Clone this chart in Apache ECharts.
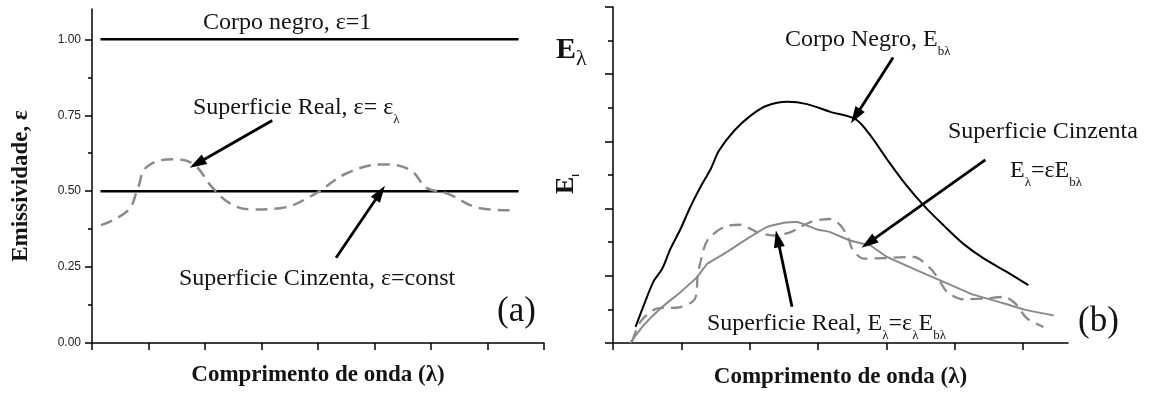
<!DOCTYPE html>
<html>
<head>
<meta charset="utf-8">
<script src="https://cdn.jsdelivr.net/npm/echarts@6/dist/echarts.min.js"></script>
<style>
html, body { margin: 0; padding: 0; background: #fff; }
#c { width: 1149px; height: 394px; }
</style>
</head>
<body>
<div id="c"></div>
<script>
// ---- Panel (a): emissivity against wavelength ----
const emisLineX = [0.15, 7.55];
const emisBlackBody = [1, 1];
const emisGrayBody = [0.5, 0.5];
const emisRealX = [0.16, 0.64, 0.80, 0.97, 1.43, 1.79, 2.14, 2.44, 2.80, 3.33, 3.91, 4.51, 5.15, 5.63, 5.93, 6.28, 6.87, 7.45];
const emisReal  = [0.388, 0.437, 0.503, 0.58, 0.605, 0.59, 0.51, 0.46, 0.44, 0.444, 0.487, 0.559, 0.588, 0.57, 0.51, 0.493, 0.444, 0.437];
const emisTickValues = [0, 0.25, 0.5, 0.75, 1];
const emisMinorTicks = [0.125, 0.375, 0.625, 0.875];
const waveTicksA = [0, 1, 2, 3, 4, 5, 6, 7, 8];

// ---- Panel (b): spectral emissive power against wavelength ----
const bodyX = [0.33, 0.45, 0.59, 0.72, 0.84, 0.99, 1.13, 1.28, 1.43, 1.55, 1.77, 2.01, 2.25, 2.55, 2.84, 3.18, 3.55, 3.77, 4.01, 4.26, 4.55, 4.84, 5.13, 5.43, 5.77, 6.08];
const bodyE = [0.48, 1.12, 1.82, 2.21, 2.80, 3.40, 4.04, 4.64, 5.18, 5.72, 6.31, 6.76, 7.06, 7.18, 7.11, 6.88, 6.66, 6.17, 5.47, 4.78, 4.09, 3.50, 2.95, 2.51, 2.11, 1.72];
const grayX = [0.25, 0.45, 0.69, 0.99, 1.23, 1.38, 1.67, 1.96, 2.25, 2.50, 2.69, 2.99, 3.18, 3.47, 3.77, 4.01, 4.45, 4.84, 5.23, 5.62, 6.01, 6.45];
const grayE = [0, 0.53, 1.02, 1.52, 1.96, 2.36, 2.71, 3.10, 3.45, 3.58, 3.60, 3.38, 3.30, 3.05, 2.90, 2.56, 2.16, 1.82, 1.47, 1.24, 1.00, 0.82];
const realX = [0.28, 0.40, 0.64, 0.99, 1.20, 1.24, 1.28, 1.38, 1.62, 1.86, 2.11, 2.35, 2.60, 2.89, 3.18, 3.33, 3.45, 3.50, 3.67, 4.01, 4.40, 4.65, 4.79, 4.89, 5.13, 5.43, 5.72, 5.89, 6.06, 6.30];
const realE = [0.04, 0.63, 1.02, 1.07, 1.32, 2.01, 2.41, 3.05, 3.45, 3.52, 3.30, 3.20, 3.30, 3.60, 3.69, 3.50, 3.10, 2.80, 2.51, 2.53, 2.56, 2.21, 1.82, 1.52, 1.30, 1.32, 1.37, 1.17, 0.73, 0.48];
const powerMajorTicks = [0, 2, 4, 6, 8, 10];
const powerMinorTicks = [1, 3, 5, 7, 9];
const waveTicksB = [0, 1, 2, 3, 4, 5, 6];

// annotation arrows, [from, to] in data units
const arrowsA = [
  [[3.19, 0.733], [1.86, 0.591]],
  [[4.32, 0.281], [5.10, 0.495]]
];
const arrowsB = [
  [[4.10, 8.50], [3.55, 6.75]],
  [[5.45, 5.45], [3.74, 2.98]],
  [[2.62, 1.08], [2.41, 3.10]]
];

const zip = (xs, ys) => xs.map((x, i) => [x, ys[i]]);

const SERIF = '"Liberation Serif", "DejaVu Serif", serif';
const SANS = '"Liberation Sans", Arial, sans-serif';
const INK = '#141414';
const GRAY = '#8a8a8a';

function tickAxis(gridIndex, min, max, ticks, len, extra) {
  return Object.assign({
    gridIndex, type: 'value', min, max,
    axisLine: { show: true, onZero: false, lineStyle: { color: '#000', width: 1.5 } },
    axisTick: { show: true, length: len, customValues: ticks, lineStyle: { color: '#000', width: 1.5 } },
    axisLabel: { show: false },
    splitLine: { show: false }
  }, extra || {});
}

const xTitle = {
  name: 'Comprimento de onda (λ)',
  nameLocation: 'middle',
  nameTextStyle: { fontFamily: SERIF, fontWeight: 'bold', fontSize: 23, color: INK }
};

function arrowMarks(list) {
  return {
    silent: true,
    symbol: ['none', 'triangle'],
    symbolSize: [11, 17],
    label: { show: false },
    lineStyle: { color: '#000', width: 2.8, type: 'solid' },
    emphasis: { disabled: true },
    data: list.map(a => [{ coord: a[0] }, { coord: a[1] }])
  };
}

// rich text pieces: main text and lowered subscripts
const richBase = {
  m: { fontFamily: SERIF, fontSize: 24, lineHeight: 36, verticalAlign: 'middle', fill: INK },
  s: { fontFamily: SERIF, fontSize: 13, lineHeight: 13, verticalAlign: 'bottom', fill: INK }
};
function note(x, y, text) {
  return { type: 'text', x, y, silent: true,
    style: { text, rich: richBase, align: 'left', verticalAlign: 'top' } };
}

const chart = echarts.init(document.getElementById('c'), null, { renderer: 'canvas' });

chart.setOption({
  animation: false,
  backgroundColor: '#fff',
  grid: [
    { left: 92, top: 9, width: 452, height: 334 },
    { left: 613, top: 7, width: 455, height: 337 }
  ],
  xAxis: [
    tickAxis(0, 0, 8, waveTicksA, 7, Object.assign({ nameGap: 21 }, xTitle)),
    tickAxis(1, 0, 6.66, waveTicksB, 7, Object.assign({ nameGap: 23 }, xTitle))
  ],
  yAxis: [
    tickAxis(0, 0, 1.1, emisTickValues, 7, {
      position: 'left',
      axisLabel: {
        show: true, customValues: emisTickValues, margin: 11,
        formatter: v => v.toFixed(2),
        fontFamily: SANS, fontSize: 12, color: '#222'
      }
    }),
    tickAxis(1, 0, 10, powerMajorTicks, 8, { position: 'left' }),
    tickAxis(0, 0, 1.1, emisMinorTicks, 4, { position: 'left', axisLine: { show: false } }),
    tickAxis(1, 0, 10, powerMinorTicks, 5, { position: 'left', axisLine: { show: false } })
  ],
  series: [
    {
      type: 'line', xAxisIndex: 0, yAxisIndex: 0, symbol: 'none',
      data: zip(emisLineX, emisBlackBody),
      lineStyle: { color: '#000', width: 2.5 },
      markLine: arrowMarks(arrowsA)
    },
    {
      type: 'line', xAxisIndex: 0, yAxisIndex: 0, symbol: 'none',
      data: zip(emisLineX, emisGrayBody),
      lineStyle: { color: '#000', width: 2.5 }
    },
    {
      type: 'line', xAxisIndex: 0, yAxisIndex: 0, symbol: 'none', smooth: 0.4,
      data: zip(emisRealX, emisReal),
      lineStyle: { color: GRAY, width: 2.5, type: [12, 7] }
    },
    {
      type: 'line', xAxisIndex: 1, yAxisIndex: 1, symbol: 'none', smooth: 0.3,
      data: zip(bodyX, bodyE),
      lineStyle: { color: '#000', width: 2 },
      markLine: arrowMarks(arrowsB)
    },
    {
      type: 'line', xAxisIndex: 1, yAxisIndex: 1, symbol: 'none', smooth: 0.1,
      data: zip(grayX, grayE),
      lineStyle: { color: GRAY, width: 2 }
    },
    {
      type: 'line', xAxisIndex: 1, yAxisIndex: 1, symbol: 'none', smooth: 0.3,
      data: zip(realX, realE),
      lineStyle: { color: GRAY, width: 2.3, type: [12, 7] }
    }
  ],
  graphic: [
    // panel (a) notes
    note(203, 5, '{m|Corpo negro, ε=1}'),
    note(193, 90, '{m|Superficie Real, ε= ε}{s|λ}'),
    note(179, 261, '{m|Superficie Cinzenta, ε=const}'),
    { type: 'text', x: 497, y: 312, silent: true,
      style: { text: '(a)', font: '35px ' + SERIF, fill: INK, align: 'left', verticalAlign: 'middle' } },
    { type: 'text', x: 21, y: 186, rotation: Math.PI / 2, silent: true,
      style: { text: 'Emissividade, ε', font: 'bold 23px ' + SERIF, fill: INK, align: 'center', verticalAlign: 'middle' } },

    // panel (b) notes
    note(785, 22, '{m|Corpo Negro, E}{s|bλ}'),
    note(948, 114, '{m|Superficie Cinzenta}'),
    note(1010, 153, '{m|E}{s|λ}{m|=εE}{s|bλ}'),
    note(707, 306, '{m|Superficie Real, E}{s|λ}{m|=ε}{s|λ}{m|E}{s|bλ}'),
    { type: 'text', x: 1078, y: 322, silent: true,
      style: { text: '(b)', font: '35px ' + SERIF, fill: INK, align: 'left', verticalAlign: 'middle' } },
    { type: 'text', x: 556, y: 30, silent: true,
      style: {
        text: '{e|E}{l|λ}', align: 'left', verticalAlign: 'top',
        rich: {
          e: { fontFamily: SERIF, fontWeight: 'bold', fontSize: 30, lineHeight: 40, verticalAlign: 'middle', fill: INK },
          l: { fontFamily: SERIF, fontSize: 22, lineHeight: 22, verticalAlign: 'bottom', fill: INK }
        }
      } },
    { type: 'text', x: 566, y: 184, rotation: Math.PI / 2, silent: true,
      style: {
        text: '{e|E}{l|l}', align: 'center', verticalAlign: 'middle',
        rich: {
          e: { fontFamily: SERIF, fontWeight: 'bold', fontSize: 26, lineHeight: 30, verticalAlign: 'middle', fill: INK },
          l: { fontFamily: SERIF, fontWeight: 'bold', fontSize: 10, lineHeight: 10, verticalAlign: 'bottom', fill: INK }
        }
      } }
  ]
});
</script>
</body>
</html>
